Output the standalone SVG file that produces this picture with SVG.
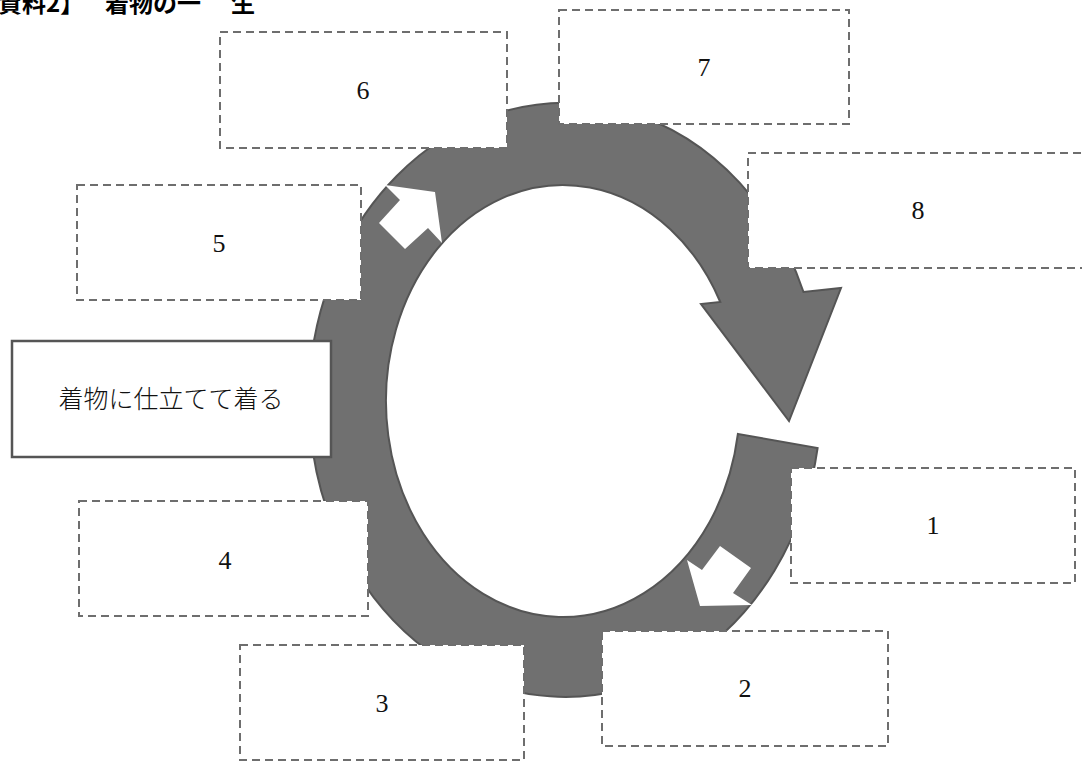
<svg xmlns="http://www.w3.org/2000/svg" width="1082" height="762" viewBox="0 0 1082 762">
<style>
.ring{fill:#707070;stroke:#555555;stroke-width:2;stroke-linejoin:miter}
.warrow{fill:#ffffff;stroke:none}
.dbox{fill:#ffffff;stroke:#6e6e6e;stroke-width:2;stroke-dasharray:8 5}
.sbox{fill:#ffffff;stroke:#555555;stroke-width:2.5}
.num{font-family:"Liberation Serif","DejaVu Serif",serif;font-size:26px;fill:#111;text-anchor:middle}
.lbl{font-family:"Noto Sans CJK JP","Noto Sans",sans-serif;font-size:25px;font-weight:300;fill:#111;text-anchor:middle}
.title{font-family:"Noto Sans CJK JP","Noto Sans",sans-serif;font-size:24px;font-weight:bold;fill:#000}
</style>
<rect width="1082" height="762" fill="#ffffff"/>
<text class="title" y="12"><tspan x="-26">【資料2】</tspan><tspan x="105">着物の一</tspan><tspan x="231">生</tspan></text>
<g id="connectors">
<path class="ring" d="M 737.9 434 L 817.6 448 A 256 297 0 1 1 803.5 292 L 841 288 L 789 421 L 701 304 L 720.3 302 A 177 216 0 1 0 737.9 434 Z"/>
<polygon class="warrow" points="385,185 435,192 442,243 428,228 405,249 379,223 400,200"/>
<polygon class="warrow" points="687,560 702,570 720,546 751,568 733,593 752,605 700,606"/>
</g>
<g id="node-6"><rect class="dbox" x="220" y="32" width="287" height="116"/><text class="num" x="363" y="99">6</text></g>
<g id="node-7"><rect class="dbox" x="559" y="10" width="290" height="114"/><text class="num" x="704" y="76">7</text></g>
<g id="node-8"><rect class="dbox" x="748" y="153" width="340" height="115"/><text class="num" x="918" y="219">8</text></g>
<g id="node-5"><rect class="dbox" x="77" y="185" width="284" height="115"/><text class="num" x="219" y="252">5</text></g>
<g id="node-start"><rect class="sbox" x="12" y="341" width="319" height="116"/><text class="lbl" x="171" y="408">着物に仕立てて着る</text></g>
<g id="node-4"><rect class="dbox" x="79" y="501" width="289" height="115"/><text class="num" x="225" y="569">4</text></g>
<g id="node-3"><rect class="dbox" x="240" y="645" width="284" height="115"/><text class="num" x="382" y="712">3</text></g>
<g id="node-2"><rect class="dbox" x="602" y="631" width="286" height="115"/><text class="num" x="745" y="697">2</text></g>
<g id="node-1"><rect class="dbox" x="791" y="468" width="284" height="115"/><text class="num" x="933" y="534">1</text></g>
</svg>
